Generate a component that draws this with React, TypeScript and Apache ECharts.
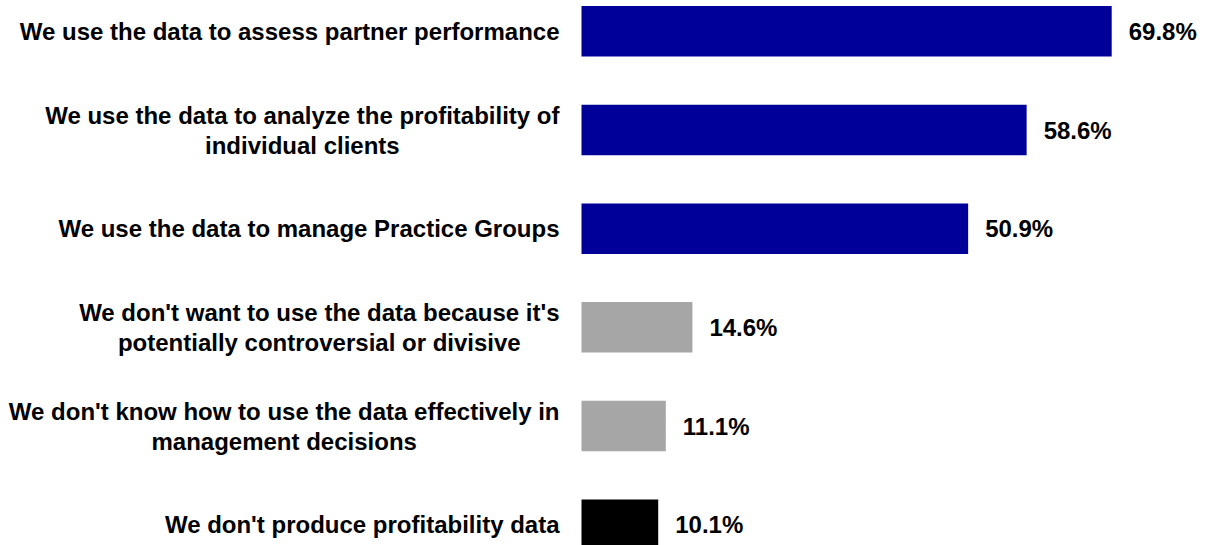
import React, { useEffect, useRef } from "react";
import * as echarts from "echarts";

const categories: string[] = [
  "We use the data to assess partner performance",
  "We use the data to analyze the profitability of\nindividual clients",
  "We use the data to manage Practice Groups",
  "We don't want to use the data because it's\npotentially controversial or divisive",
  "We don't know how to use the data effectively in\nmanagement decisions",
  "We don't produce profitability data",
];
const values: number[] = [69.8, 58.6, 50.9, 14.6, 11.1, 10.1];
const barColors: string[] = ["#000099", "#000099", "#000099", "#A6A6A6", "#A6A6A6", "#000000"];

const FONT = "'Liberation Sans', Arial, sans-serif";

export default function App() {
  const ref = useRef<HTMLDivElement>(null);
  useEffect(() => {
    if (!ref.current) return;
    const chart = echarts.init(ref.current, undefined, { renderer: "svg" });
    chart.setOption({
      animation: false,
      backgroundColor: "#ffffff",
      grid: { left: 581.5, top: 0, width: 759.6, height: 592, containLabel: false },
      xAxis: {
        type: "value",
        min: 0,
        max: 100,
        show: false,
        splitLine: { show: false },
      },
      yAxis: {
        type: "category",
        inverse: true,
        data: categories,
        axisLine: { show: false },
        axisTick: { show: false },
        splitLine: { show: false },
        axisLabel: {
          margin: 22,
          align: "right",
          color: "#000",
          fontFamily: FONT,
          fontWeight: "bold",
          fontSize: 24,
          formatter: (v: string) =>
            v
              .split("\n")
              .map((l) => `{c|${l}}`)
              .join("\n"),
          rich: {
            c: {
              align: "center",
              color: "#000",
              fontFamily: FONT,
              fontWeight: "bold",
              fontSize: 24,
              lineHeight: 30,
            },
          },
        },
      },
      series: [
        {
          type: "bar",
          barWidth: 50.5,
          data: values.map((v, i) => ({ value: v, itemStyle: { color: barColors[i] } })),
          label: {
            show: true,
            position: "right",
            distance: 17,
            formatter: (p: any) => `${p.value.toFixed(1)}%`,
            color: "#000",
            fontFamily: FONT,
            fontWeight: "bold",
            fontSize: 24,
          },
        },
      ],
    });
    return () => chart.dispose();
  }, []);
  return (
    <div
      style={{
        position: "fixed",
        left: 0,
        top: 0,
        width: 1208,
        height: 545,
        overflow: "hidden",
        background: "#fff",
      }}
    >
      <div
        ref={ref}
        style={{ position: "absolute", left: 0, top: -18, width: 1400, height: 592 }}
      />
    </div>
  );
}
